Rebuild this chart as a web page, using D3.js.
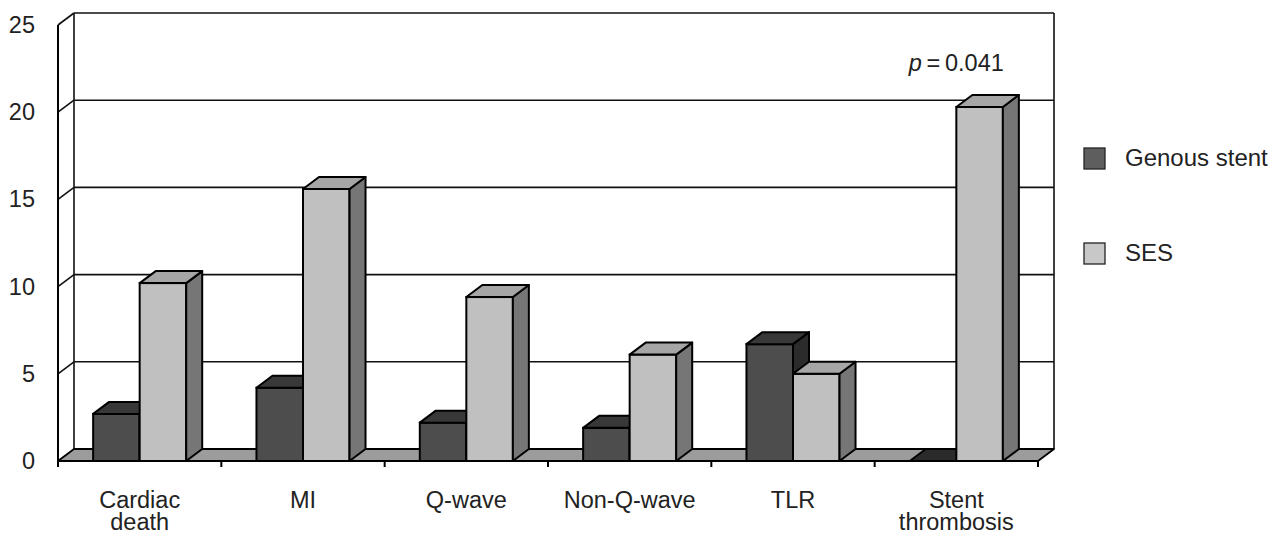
<!DOCTYPE html>
<html>
<head>
<meta charset="utf-8">
<script src="https://cdn.jsdelivr.net/npm/d3@7"></script>
<style>
  html, body { margin: 0; padding: 0; background: #fff; }
  svg { display: block; font-family: "Liberation Sans", Arial, sans-serif; }
</style>
</head>
<body>
<div id="container"></div>
<script>
// Data
const categories = ["Cardiac death", "MI", "Q-wave", "Non-Q-wave", "TLR", "Stent thrombosis"];
const series = ["Genous stent", "SES"];
const genous = [2.7, 4.2, 2.2, 1.9, 6.7, 0];
const ses = [10.2, 15.6, 9.4, 6.1, 5.0, 20.3];
const yTicks = [0, 5, 10, 15, 20, 25];
const pLabel = "0.041";

const width = 1273;
const height = 533;

// Plot frame (front plane)
const plotLeft = 58, plotRight = 1038;
const plotBase = 461, plotTop = 25;
const dx = 16, dy = -12; // depth offset

// Colours
const dark = { front: "#4d4d4d", top: "#383838", side: "#2b2b2b", legend: "#5e5e5e" };
const light = { front: "#c0c0c0", top: "#a6a6a6", side: "#767676", legend: "#c8c8c8" };
const floorFill = "#9c9c9c";
const textCol = "#222";

const y = d3.scaleLinear().domain([0, 25]).range([plotBase, plotTop]);
const x = d3.scaleBand().domain(categories).range([plotLeft, plotRight]).paddingInner(0).paddingOuter(0);
const xs = d3.scaleBand().domain(series).range([0, x.bandwidth()]).paddingInner(0).paddingOuter(0.755);

const svg = d3.create("svg")
    .attr("width", width)
    .attr("height", height);

// Back wall
svg.append("rect")
    .attr("x", plotLeft + dx).attr("y", y(25) + dy)
    .attr("width", plotRight - plotLeft).attr("height", y(0) - y(25))
    .attr("fill", "#fff");

// Gridlines on back wall + side wall
yTicks.filter(t => t > 0).forEach(t => {
  svg.append("line")
    .attr("x1", plotLeft + dx).attr("x2", plotRight + dx)
    .attr("y1", y(t) + dy).attr("y2", y(t) + dy)
    .attr("stroke", "#111").attr("stroke-width", 1.6);
  svg.append("line")
    .attr("x1", plotLeft).attr("x2", plotLeft + dx)
    .attr("y1", y(t)).attr("y2", y(t) + dy)
    .attr("stroke", "#111").attr("stroke-width", 1.6);
});

// Back wall verticals
svg.append("line")
    .attr("x1", plotLeft + dx).attr("x2", plotLeft + dx)
    .attr("y1", y(25) + dy).attr("y2", y(0) + dy)
    .attr("stroke", "#111").attr("stroke-width", 1.6);
svg.append("line")
    .attr("x1", plotRight + dx).attr("x2", plotRight + dx)
    .attr("y1", y(25) + dy).attr("y2", y(0) + dy)
    .attr("stroke", "#111").attr("stroke-width", 1.6);

// Floor
svg.append("polygon")
    .attr("points", [[plotLeft, y(0)], [plotRight, y(0)], [plotRight + dx, y(0) + dy], [plotLeft + dx, y(0) + dy]].join(" "))
    .attr("fill", floorFill)
    .attr("stroke", "#000").attr("stroke-width", 1.8)
    .attr("stroke-linejoin", "round");

// Front left axis
svg.append("line")
    .attr("x1", plotLeft).attr("x2", plotLeft)
    .attr("y1", y(25)).attr("y2", y(0))
    .attr("stroke", "#000").attr("stroke-width", 2);

// Bars
function bar(g, x0, w, v, col) {
  const yt = y(v);
  const x1 = x0 + w;
  if (v > 0) {
    g.append("rect")
      .attr("x", x0).attr("y", yt).attr("width", w).attr("height", y(0) - yt)
      .attr("fill", col.front).attr("stroke", "#000").attr("stroke-width", 2);
    g.append("polygon")
      .attr("points", [[x1, yt], [x1 + dx, yt + dy], [x1 + dx, y(0) + dy], [x1, y(0)]].join(" "))
      .attr("fill", col.side).attr("stroke", "#000").attr("stroke-width", 2).attr("stroke-linejoin", "round");
  }
  g.append("polygon")
    .attr("points", [[x0, yt], [x0 + dx, yt + dy], [x1 + dx, yt + dy], [x1, yt]].join(" "))
    .attr("fill", v > 0 ? col.top : col.side).attr("stroke", "#000").attr("stroke-width", 2).attr("stroke-linejoin", "round");
}

const bars = svg.append("g");
categories.forEach((c, i) => {
  bar(bars, x(c) + xs("Genous stent"), xs.bandwidth(), genous[i], dark);
  bar(bars, x(c) + xs("SES"), xs.bandwidth(), ses[i], light);
});

// Front baseline
svg.append("line")
    .attr("x1", plotLeft).attr("x2", plotRight)
    .attr("y1", y(0)).attr("y2", y(0))
    .attr("stroke", "#000").attr("stroke-width", 2);

// X ticks
const tickXs = categories.map(c => x(c)).concat([plotRight]);
tickXs.forEach(tx => {
  svg.append("line")
    .attr("x1", tx).attr("x2", tx)
    .attr("y1", y(0)).attr("y2", y(0) + 6)
    .attr("stroke", "#000").attr("stroke-width", 2);
});

// Y tick labels
svg.append("g").selectAll("text")
  .data(yTicks)
  .join("text")
    .attr("x", 35)
    .attr("y", d => y(d) + 8)
    .attr("text-anchor", "end")
    .attr("font-size", 23.5)
    .attr("fill", textCol)
    .text(d => d);

// Category labels (wrapped)
const catLabels = svg.append("g");
categories.forEach(c => {
  const words = c.split(" ");
  const t = catLabels.append("text")
    .attr("x", x(c) + x.bandwidth() / 2)
    .attr("y", 508)
    .attr("text-anchor", "middle")
    .attr("font-size", 23.5)
    .attr("fill", textCol);
  words.forEach((w, k) => {
    t.append("tspan")
      .attr("x", x(c) + x.bandwidth() / 2)
      .attr("dy", k === 0 ? 0 : 22)
      .text(w);
  });
});

// p-value
const pText = svg.append("text")
    .attr("x", x("Stent thrombosis") + x.bandwidth() / 2)
    .attr("y", 71)
    .attr("text-anchor", "middle")
    .attr("font-size", 23.5)
    .attr("fill", textCol);
pText.append("tspan").attr("font-style", "italic").text("p");
pText.append("tspan").text("\u2009=\u2009" + pLabel);

// Legend
const legend = svg.append("g");
const legendCols = [dark.legend, light.legend];
const legendY = [148, 243];
series.forEach((s, i) => {
  legend.append("rect")
    .attr("x", 1084).attr("y", legendY[i])
    .attr("width", 21).attr("height", 21)
    .attr("fill", legendCols[i]).attr("stroke", "#222").attr("stroke-width", 1.3);
  legend.append("text")
    .attr("x", 1125).attr("y", legendY[i] + 18)
    .attr("font-size", 24)
    .attr("fill", textCol)
    .text(s);
});

document.getElementById("container").append(svg.node());
</script>
</body>
</html>
